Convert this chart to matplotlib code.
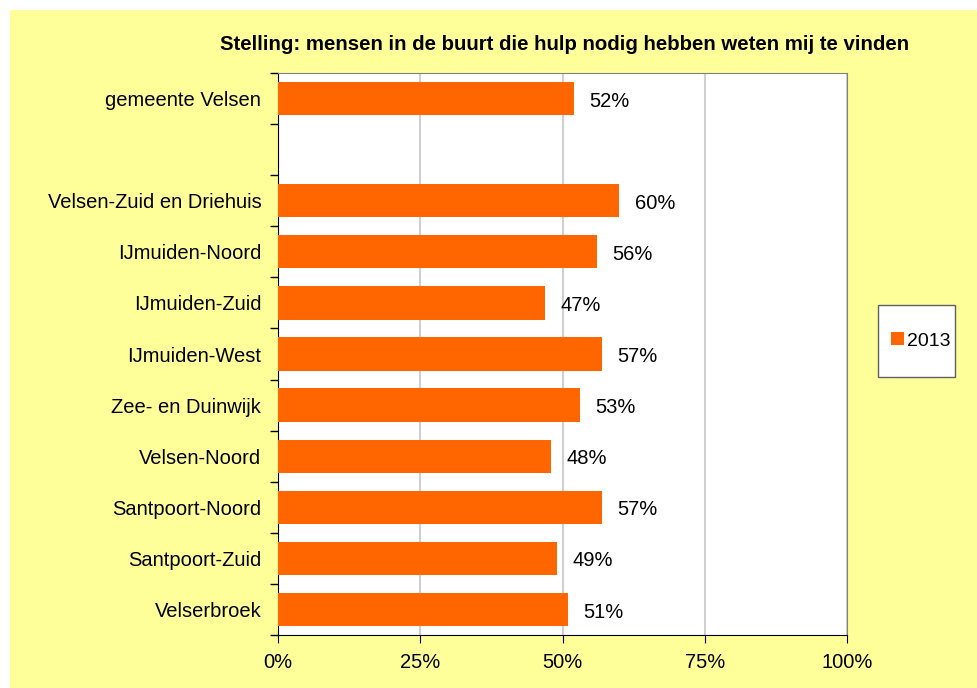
import matplotlib.pyplot as plt
from matplotlib.patches import Rectangle
from matplotlib.ticker import FixedLocator, PercentFormatter

# Stelling scores per wijk (percentage eens)
total_label = "gemeente Velsen"
total_value = 52
wijken = ["Velsen-Zuid en Driehuis", "IJmuiden-Noord", "IJmuiden-Zuid",
          "IJmuiden-West", "Zee- en Duinwijk", "Velsen-Noord",
          "Santpoort-Noord", "Santpoort-Zuid", "Velserbroek"]
wijk_values = [60, 56, 47, 57, 53, 48, 57, 49, 51]
series_name = "2013"
title = "Stelling: mensen in de buurt die hulp nodig hebben weten mij te vinden"

plt.rcParams["font.family"] = ["Liberation Sans", "DejaVu Sans"]
orange = "#FF6600"
fs = 14.5
W, H = 978, 688

fig = plt.figure(figsize=(W / 100, H / 100), dpi=100, facecolor="white")
fig.patches.append(Rectangle((10 / W, 0), 1, 678 / H, transform=fig.transFigure,
                             facecolor="#FFFF99", edgecolor="none", zorder=0))
# legend box
fig.patches.append(Rectangle((878 / W, 1 - 377 / H), 77 / W, 72 / H,
                             transform=fig.transFigure, facecolor="white",
                             edgecolor="#606060", linewidth=1, zorder=1))

ax = fig.add_axes([278 / W, 53 / H, 569 / W, 562 / H])
ax.set_zorder(2)
ax.set_facecolor("white")

# gemeente on top, one empty slot, then the wijken
labels = [total_label] + wijken
values = [total_value] + wijk_values
positions = [0] + list(range(2, 2 + len(wijken)))

bars = ax.barh(positions, values, height=0.65, color=orange, zorder=3)
for pos, val in zip(positions, values):
    ax.text(val + 2.7, pos + 0.05, f"{val}%", va="center", ha="left", fontsize=fs)

ax.set_xlim(0, 100)
ax.set_ylim(10.5, -0.5)
ax.set_xticks([0, 25, 50, 75, 100])
ax.xaxis.set_major_formatter(PercentFormatter(decimals=0))
ax.set_yticks(positions)
ax.set_yticklabels(labels)
ax.yaxis.set_minor_locator(FixedLocator([i - 0.5 for i in range(12)]))
ax.tick_params(axis="y", which="major", length=0, pad=12, labelsize=fs)
ax.tick_params(axis="y", which="minor", length=6, width=1)
ax.tick_params(axis="x", length=6, pad=7, labelsize=fs)
ax.grid(axis="x", color="#D0D0D0", linewidth=1.5, zorder=0)

for side in ["top", "right"]:
    ax.spines[side].set_color("#808080")
ax.spines["left"].set_color("black")
ax.spines["bottom"].set_color("black")

fig.text(565 / W, 1 - 44 / H, title, ha="center", va="center",
         fontsize=14.7, fontweight="bold")

leg = fig.legend([bars], [series_name], loc="center",
                 bbox_to_anchor=(921 / W, 1 - 341 / H), fontsize=14,
                 frameon=False, handlelength=0.65, handleheight=0.65,
                 handletextpad=0.15, borderaxespad=0)
leg.set_zorder(3)

fig.savefig("out.png", dpi=100, facecolor=fig.get_facecolor())
